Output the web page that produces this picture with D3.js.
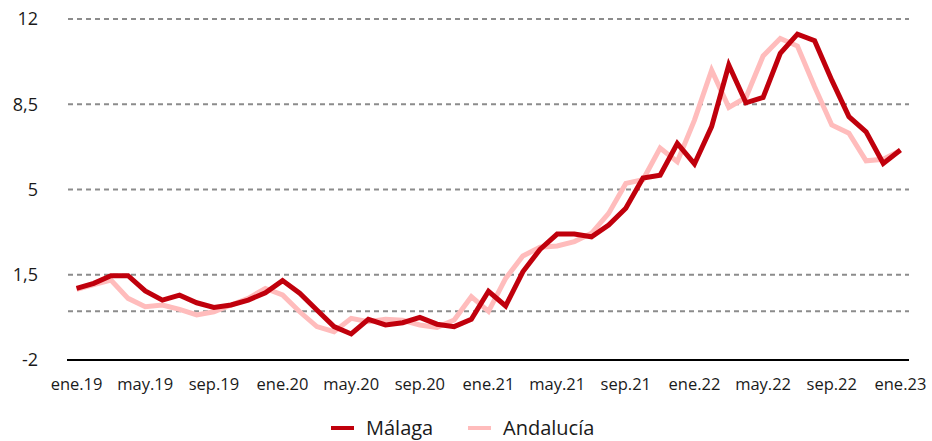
<!DOCTYPE html>
<html>
<head>
<meta charset="utf-8">
<script src="https://cdn.jsdelivr.net/npm/d3@7"></script>
<style>
  body { margin: 0; background: #fff; }
  text { font-family: "Open Sans", "Noto Sans", sans-serif; fill: #1a1a1a; }
</style>
</head>
<body>
<svg id="chart"></svg>
<script>
// monthly series ene.19 .. ene.23
var months = ["ene","feb","mar","abr","may","jun","jul","ago","sep","oct","nov","dic"];
var categories = [];
for (var y = 19; y <= 23; y++) {
    months.forEach(function (m) { categories.push(m + "." + y); });
}
categories = categories.slice(0, 49);

var malaga = [0.94, 1.15, 1.46, 1.46, 0.84, 0.46, 0.66, 0.35, 0.16, 0.26, 0.46, 0.76,
              1.26, 0.74, 0.05, -0.63, -0.93, -0.33, -0.56, -0.47, -0.25, -0.53, -0.63, -0.33,
              0.82, 0.22, 1.62, 2.54, 3.17, 3.17, 3.06, 3.54, 4.23, 5.47, 5.59, 6.89,
              6.05, 7.58, 10.11, 8.56, 8.78, 10.59, 11.38, 11.11, 9.49, 7.99, 7.37, 6.07, 6.62];

var andalucia = [0.9, 1.1, 1.28, 0.53, 0.19, 0.26, 0.08, -0.15, -0.02, 0.26, 0.53, 0.94,
                 0.67, -0.02, -0.63, -0.84, -0.29, -0.43, -0.33, -0.37, -0.56, -0.66, -0.36, 0.6,
                 0.0, 1.35, 2.27, 2.63, 2.68, 2.86, 3.2, 4.02, 5.25, 5.4, 6.7, 6.14,
                 7.85, 9.9, 8.37, 8.78, 10.48, 11.2, 10.89, 9.22, 7.65, 7.31, 6.18, 6.24, 6.6];

var yTicks = [-2, 1.5, 5, 8.5, 12];
var gridValues = [0, 1.5, 5, 8.5, 12];
var xTickLabels = ["ene.19","may.19","sep.19","ene.20","may.20","sep.20","ene.21",
                   "may.21","sep.21","ene.22","may.22","sep.22","ene.23"];

var width = 932, height = 441;
var svg = d3.select("#chart").attr("width", width).attr("height", height);

var x = d3.scalePoint().domain(categories).range([68, 909]).padding(0.5);
var yScale = d3.scaleLinear().domain([-2, 12]).range([360, 19]);

// dashed gridlines
svg.selectAll("line.grid")
    .data(gridValues)
    .enter()
    .append("line")
    .attr("class", "grid")
    .attr("x1", 68).attr("x2", 909)
    .attr("y1", function (d) { return yScale(d); })
    .attr("y2", function (d) { return yScale(d); })
    .attr("stroke", "#8c8c8c")
    .attr("stroke-width", 2)
    .attr("stroke-dasharray", "5,4");

// y labels
svg.selectAll("text.ylab")
    .data(yTicks)
    .enter()
    .append("text")
    .attr("class", "ylab")
    .attr("x", 38)
    .attr("y", function (d) { return yScale(d); })
    .attr("dy", "0.35em")
    .attr("text-anchor", "end")
    .style("font-size", "18px")
    .text(function (d) { return String(d).replace(".", ","); });

// x axis line
svg.append("line")
    .attr("x1", 67).attr("x2", 909)
    .attr("y1", yScale(-2)).attr("y2", yScale(-2))
    .attr("stroke", "#000")
    .attr("stroke-width", 2);

svg.selectAll("text.xlab")
    .data(xTickLabels)
    .enter()
    .append("text")
    .attr("class", "xlab")
    .attr("x", function (d) { return x(d); })
    .attr("y", 390)
    .attr("text-anchor", "middle")
    .style("font-size", "16.5px")
    .text(function (d) { return d; });

var line = d3.line()
    .x(function (d, i) { return x(categories[i]); })
    .y(function (d) { return yScale(d); });

svg.append("path")
    .datum(andalucia)
    .attr("d", line)
    .attr("fill", "none")
    .attr("stroke", "#ffbcbc")
    .attr("stroke-width", 5)
    .attr("stroke-linejoin", "miter");

svg.append("path")
    .datum(malaga)
    .attr("d", line)
    .attr("fill", "none")
    .attr("stroke", "#c0000c")
    .attr("stroke-width", 5)
    .attr("stroke-linejoin", "miter");

// legend
var legend = [{name: "Málaga", color: "#c0000c", x: 331}, {name: "Andalucía", color: "#ffbcbc", x: 468}];
var lg = svg.selectAll("g.legend")
    .data(legend)
    .enter()
    .append("g")
    .attr("class", "legend")
    .attr("transform", function (d) { return "translate(" + d.x + ",428)"; });
lg.append("line")
    .attr("x1", 0).attr("x2", 23)
    .attr("stroke", function (d) { return d.color; })
    .attr("stroke-width", 4);
lg.append("text")
    .attr("x", 35)
    .attr("dy", "0.35em")
    .style("font-size", "20px")
    .text(function (d) { return d.name; });
</script>
</body>
</html>
